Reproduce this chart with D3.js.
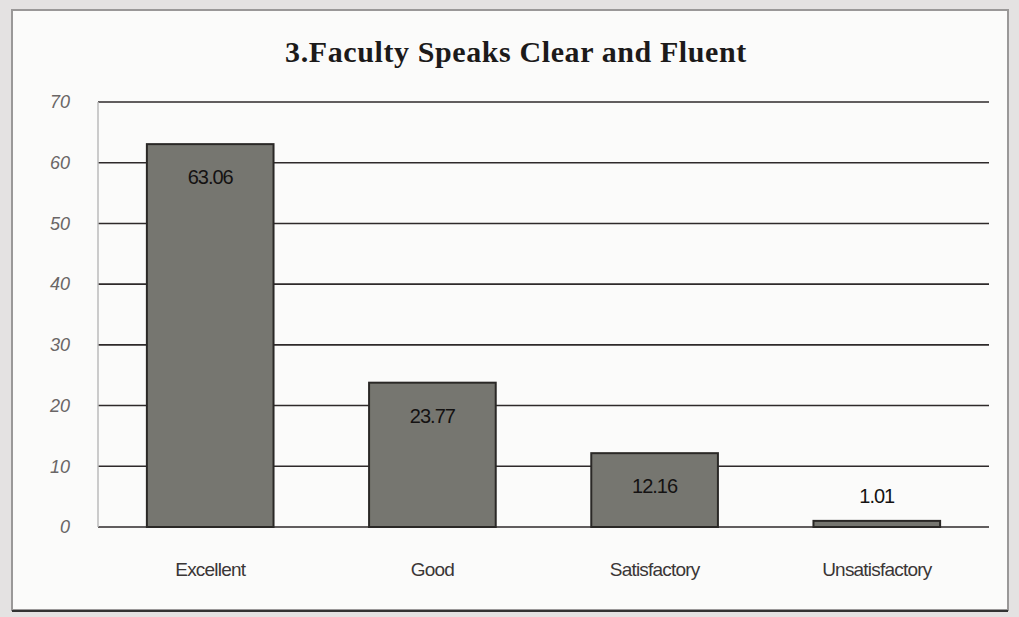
<!DOCTYPE html>
<html>
<head>
<meta charset="utf-8">
<script src="https://cdn.jsdelivr.net/npm/d3@7"></script>
<style>
  body { margin: 0; background: #e4e2e2; }
  .tick text { font-family: "Liberation Sans", sans-serif; }
</style>
</head>
<body>
<div class="display"></div>
<script>
const categories = ['Excellent', 'Good', 'Satisfactory', 'Unsatisfactory'];
const values = [63.06, 23.77, 12.16, 1.01];
const yTicks = [0, 10, 20, 30, 40, 50, 60, 70];

const width = 1019;
const height = 617;
const margin = { top: 102, right: 30, bottom: 90, left: 98 };

const svg = d3.select('.display')
  .append('svg')
  .attr('width', width)
  .attr('height', height);

// chart paper
svg.append('rect')
  .attr('x', 12)
  .attr('y', 10)
  .attr('width', 996)
  .attr('height', 600)
  .attr('fill', '#fbfbfa')
  .attr('stroke', '#9a9898')
  .attr('stroke-width', 2);

svg.append('line')
  .attr('x1', 12).attr('x2', 1008)
  .attr('y1', 611).attr('y2', 611)
  .attr('stroke', '#333')
  .attr('stroke-width', 2);

const xScale = d3.scaleBand()
  .domain(categories)
  .range([margin.left, width - margin.right])
  .paddingInner(0.43)
  .paddingOuter(0.22);

const yScale = d3.scaleLinear()
  .domain([0, 70])
  .range([height - margin.bottom, margin.top]);

// gridlines
svg.append('g')
  .selectAll('line')
  .data(yTicks)
  .enter()
  .append('line')
  .attr('x1', margin.left)
  .attr('x2', width - margin.right)
  .attr('y1', d => yScale(d))
  .attr('y2', d => yScale(d))
  .attr('stroke', '#2e2a2a')
  .attr('stroke-width', 1.6);

// faint y axis line
svg.append('line')
  .attr('x1', margin.left).attr('x2', margin.left)
  .attr('y1', yScale(70)).attr('y2', yScale(0))
  .attr('stroke', '#bbb')
  .attr('stroke-width', 1.5);

const yAxis = d3.axisLeft(yScale)
  .tickValues(yTicks)
  .tickSize(0)
  .tickPadding(28);

svg.append('g')
  .attr('transform', `translate(${margin.left}, 0)`)
  .call(yAxis)
  .call(g => g.select('.domain').remove())
  .selectAll('text')
  .attr('font-size', 18)
  .attr('font-style', 'italic')
  .attr('fill', '#6a6666');

const xAxis = d3.axisBottom(xScale)
  .tickSize(0)
  .tickPadding(36);

svg.append('g')
  .attr('transform', `translate(0, ${height - margin.bottom})`)
  .call(xAxis)
  .call(g => g.select('.domain').remove())
  .selectAll('text')
  .attr('font-size', 19)
  .attr('fill', '#3a3636')
  .attr('letter-spacing', -0.8);

svg.selectAll('.bar')
  .data(values)
  .enter()
  .append('rect')
  .attr('class', 'bar')
  .attr('x', (d, i) => xScale(categories[i]))
  .attr('y', d => yScale(d))
  .attr('width', xScale.bandwidth())
  .attr('height', d => yScale(0) - yScale(d))
  .attr('fill', '#767670')
  .attr('stroke', '#2a2826')
  .attr('stroke-width', 2);

svg.selectAll('.label')
  .data(values)
  .enter()
  .append('text')
  .attr('class', 'label')
  .attr('x', (d, i) => xScale(categories[i]) + xScale.bandwidth() / 2)
  .attr('y', d => d > 5 ? yScale(d) + 40 : yScale(d) - 18)
  .attr('text-anchor', 'middle')
  .attr('font-family', 'Liberation Sans, sans-serif')
  .attr('font-size', 20)
  .attr('letter-spacing', -1)
  .attr('fill', '#141212')
  .text(d => d.toFixed(2));

svg.append('text')
  .attr('x', 516)
  .attr('y', 62)
  .attr('text-anchor', 'middle')
  .attr('font-family', 'Liberation Serif, serif')
  .attr('font-weight', 'bold')
  .attr('font-size', 30)
  .attr('letter-spacing', 0.6)
  .attr('fill', '#1c1a1a')
  .text('3.Faculty Speaks Clear and Fluent');
</script>
</body>
</html>
